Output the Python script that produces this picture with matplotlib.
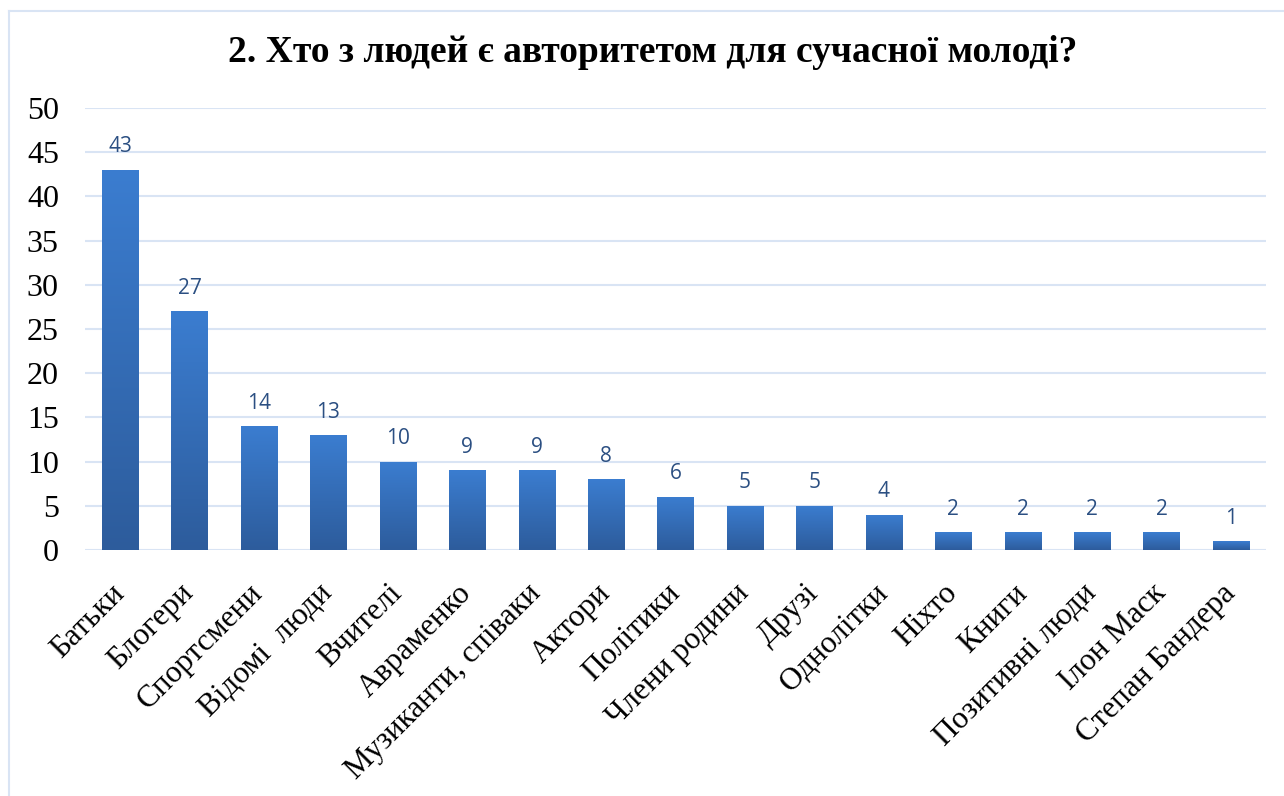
import matplotlib
matplotlib.use("Agg")
import matplotlib.pyplot as plt
import numpy as np
from matplotlib.colors import LinearSegmentedColormap
from matplotlib.lines import Line2D

title = "2. Хто з людей є авторитетом для сучасної молоді?"
categories = ["Батьки", "Блогери", "Спортсмени", "Відомі  люди", "Вчителі",
              "Авраменко", "Музиканти, співаки", "Актори", "Політики",
              "Члени родини", "Друзі", "Однолітки", "Ніхто", "Книги",
              "Позитивні люди", "Ілон Маск", "Степан Бандера"]
values = [43, 27, 14, 13, 10, 9, 9, 8, 6, 5, 5, 4, 2, 2, 2, 2, 1]
yticks = [0, 5, 10, 15, 20, 25, 30, 35, 40, 45, 50]

W, H = 1284, 796
fig = plt.figure(figsize=(W / 100, H / 100), dpi=100)
ax = fig.add_axes([85.3 / W, 1 - 550 / H, (1265.7 - 85.3) / W, (550 - 108) / H])

grid_c = "#d9e4f4"
x = np.arange(len(categories))
bars = ax.bar(x, values, width=0.52, color="#3670bb", zorder=3)

cmap = LinearSegmentedColormap.from_list("g", ["#2d5c9c", "#3b7dd0"])
grad = np.linspace(0, 1, 256).reshape(-1, 1)
for b in bars:
    bx, by = b.get_x(), b.get_y()
    bw, bh = b.get_width(), b.get_height()
    im = ax.imshow(grad, extent=[bx, bx + bw, by, by + bh], origin="lower",
                   cmap=cmap, aspect="auto", zorder=4)
    im.set_clip_path(b)

for xi, v in zip(x, values):
    ax.annotate(str(v), (xi, v), xytext=(0, 9), textcoords="offset points",
                ha="center", va="bottom", fontsize=15, color="#2b4f82",
                family="Open Sans", zorder=5)

ax.set_xlim(-0.5, len(categories) - 0.5)
ax.set_ylim(0, 50)
ax.set_yticks(yticks)
ax.set_yticklabels([str(t) for t in yticks], family="Liberation Serif", fontsize=23)
ax.set_xticks(x)
ax.set_xticklabels(categories, family="Liberation Serif", fontsize=22.5,
                   rotation=45, ha="right", va="center", rotation_mode="anchor")
ax.tick_params(axis="x", length=0, pad=28)
ax.tick_params(axis="y", length=0, pad=19)
ax.grid(axis="y", color=grid_c, linewidth=1.5, zorder=0)
for s in ax.spines.values():
    s.set_visible(False)
ax.set_axisbelow(True)

fig.text(0.508, 1 - 53 / H, title, ha="center", va="center",
         family="Liberation Serif", fontweight="bold", fontsize=27)

# outer frame (partially visible)
fig.add_artist(Line2D([9 / W, 1.0], [1 - 11 / H, 1 - 11 / H],
                      transform=fig.transFigure, color=grid_c, linewidth=1.5))
fig.add_artist(Line2D([9 / W, 9 / W], [1 - 11 / H, 0.0],
                      transform=fig.transFigure, color=grid_c, linewidth=1.5))

fig.savefig("out.png", dpi=100)
